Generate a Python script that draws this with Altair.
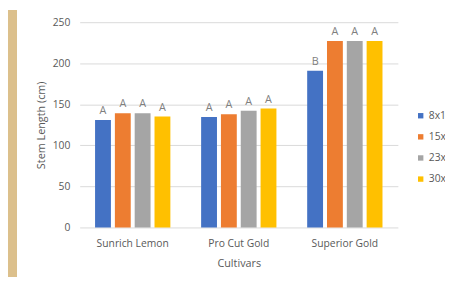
import altair as alt
import pandas as pd

cultivars = ["Sunrich Lemon", "Pro Cut Gold", "Superior Gold"]
spacings = ["8x15", "15x15", "23x23", "30x30"]
colors = ["#4472c4", "#ed7d31", "#a5a5a5", "#ffc000"]
sunrich = [131, 139, 139, 135]
procut = [134.5, 138, 142, 145]
superior = [191, 227, 227, 227]
letters_sunrich = ["A", "A", "A", "A"]
letters_procut = ["A", "A", "A", "A"]
letters_superior = ["B", "A", "A", "A"]

rows = []
for c, vals, lets in zip(cultivars, [sunrich, procut, superior],
                         [letters_sunrich, letters_procut, letters_superior]):
    for s, v, l in zip(spacings, vals, lets):
        rows.append({"Cultivar": c, "Spacing": s, "Length": v, "Letter": l})
df = pd.DataFrame(rows)

FONT = "Open Sans"
W, H = 324, 209

x = alt.X("Cultivar:N", sort=cultivars, title="Cultivars",
          scale=alt.Scale(paddingInner=0.29, paddingOuter=0.145),
          axis=alt.Axis(labelAngle=0, domain=False, ticks=False, labelPadding=11,
                        titlePadding=9, labelFontSize=10.5, titleFontSize=11))
xo = alt.XOffset("Spacing:N", sort=spacings, scale=alt.Scale(paddingInner=0.2))
y = alt.Y("Length:Q", title="Stem Length (cm)",
          scale=alt.Scale(domain=[0, 250], nice=False),
          axis=alt.Axis(values=[0, 50, 100, 150, 200, 250], domain=False, ticks=False,
                        labelPadding=10, titlePadding=6, labelFontSize=10.5,
                        titleFontSize=11))

strip = alt.Chart(df).mark_rect(color="#dcc08c").encode(
    x=alt.value(-73), x2=alt.value(-64), y=alt.value(-12), y2=alt.value(300)
)

bars = alt.Chart(df).mark_bar().encode(
    x=x, xOffset=xo, y=y,
    color=alt.Color("Spacing:N", sort=spacings,
                    scale=alt.Scale(domain=spacings, range=colors),
                    legend=alt.Legend(title=None, orient="none", legendX=342, legendY=90,
                                      symbolType="square", symbolSize=30,
                                      symbolStrokeWidth=0, labelFontSize=10.5,
                                      labelColor="#595959", rowPadding=10.5,
                                      labelOffset=3, labelLimit=200)),
)

text = alt.Chart(df).mark_text(baseline="bottom", dy=-4, fontSize=11,
                               color="#7f7f7f", font=FONT).encode(
    x=alt.X("Cultivar:N", sort=cultivars), xOffset=xo, y="Length:Q", text="Letter:N"
)

chart = alt.layer(strip, bars, text).properties(
    width=W, height=H,
    autosize=alt.AutoSizeParams(type="none"),
    padding={"left": 73, "top": 12, "right": 48, "bottom": 48},
    background="white",
).configure_view(stroke=None).configure_axis(
    labelFont=FONT, titleFont=FONT, labelColor="#595959", titleColor="#595959",
    titleFontWeight="normal", gridColor="#d9d9d9",
).configure_axisY(grid=True).configure_axisX(grid=False).configure_legend(
    labelFont=FONT
)

chart.save("out.html", embed_options={"renderer": "svg", "actions": False})
